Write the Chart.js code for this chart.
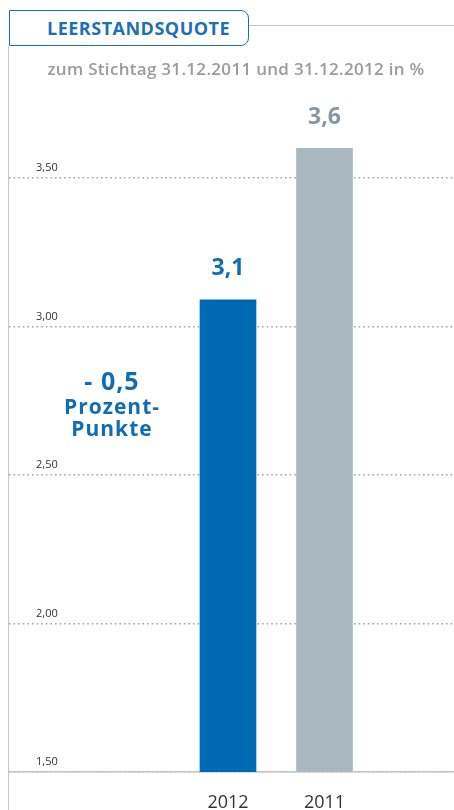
<!DOCTYPE html>
<html><head><meta charset="utf-8">
<script src="https://cdn.jsdelivr.net/npm/chart.js@4"></script>
<style>
html,body{margin:0;padding:0;background:#fff;}
#wrap{position:relative;width:454px;height:810px;overflow:hidden;font-family:"Open Sans",sans-serif;}
#chart{position:absolute;left:0;top:0;}
.vline{position:absolute;left:8px;top:46px;width:1px;height:764px;background:#c6c6c6;}
.hline{position:absolute;left:249px;top:25px;width:205px;height:1px;background:#c6c6c6;}
.head{position:absolute;left:9px;top:10px;width:238px;height:34px;border:1.5px solid #1d6fb8;border-radius:0 8px 8px 0;background:#fff;}
.headtxt{position:absolute;left:47px;top:10px;height:37px;line-height:37px;color:#1d6fb8;font-weight:700;font-size:18px;letter-spacing:0.5px;white-space:nowrap;}
.sub{position:absolute;left:0;width:472px;top:57px;text-align:center;color:#9b9b9b;font-weight:600;font-size:17px;letter-spacing:0.3px;white-space:nowrap;}
.note{position:absolute;left:52px;width:120px;top:366px;text-align:center;color:#0f6cb6;font-weight:700;white-space:nowrap;}
.note .big{font-size:25px;line-height:29px;letter-spacing:1px;}
.note .sm{font-size:21px;line-height:22px;letter-spacing:1px;}
</style></head>
<body>
<div id="wrap">
<canvas id="chart" width="454" height="810"></canvas>
<div class="vline"></div>
<div class="hline"></div>
<div class="head"></div>
<div class="headtxt">LEERSTANDSQUOTE</div>
<div class="sub">zum Stichtag 31.12.2011 und 31.12.2012 in %</div>
<div class="note"><div class="big">- 0,5</div><div class="sm">Prozent-</div><div class="sm">Punkte</div></div>
</div>
<script>
const categories = ['2012', '2011'];
const values = [3.09, 3.6];
const barColors = ['#0069b4', '#a9b7c1'];
const labelColors = ['#0f6cb6', '#8797a6'];
const yTicks = [1.5, 2.0, 2.5, 3.0, 3.5];

const valueLabels = {
  id: 'valueLabels',
  afterDatasetsDraw(chart) {
    const ctx = chart.ctx;
    const meta = chart.getDatasetMeta(0);
    meta.data.forEach((bar, i) => {
      ctx.save();
      ctx.font = '700 23px "Open Sans"';
      ctx.fillStyle = labelColors[i];
      ctx.textAlign = 'center';
      ctx.textBaseline = 'middle';
      ctx.fillText(values[i].toFixed(1).replace('.', ','), bar.x, bar.y - 31);
      ctx.restore();
    });
  }
};

new Chart(document.getElementById('chart'), {
  type: 'bar',
  data: {
    datasets: [{
      data: categories.map((c, i) => ({ x: i, y: values[i] })),
      backgroundColor: barColors,
      borderWidth: 0,
      barThickness: 56
    }]
  },
  options: {
    responsive: false,
    animation: false,
    layout: { padding: { left: 9, right: 0, top: 89, bottom: 0 } },
    plugins: { legend: { display: false }, tooltip: { enabled: false } },
    scales: {
      x: {
        type: 'linear', min: -2.2694, max: 2.342, offset: false,
        grid: { display: false, drawTicks: false, offset: false },
        border: { display: true, color: '#c3c3c3', width: 1.5 },
        afterBuildTicks: s => { s.ticks = categories.map((c, i) => ({ value: i })); },
        afterFit: s => { s.height = 38; },
        ticks: {
          callback: v => categories[v] ?? '',
          font: { family: 'Open Sans', size: 18, lineHeight: 1.2 },
          color: '#333', padding: 20, maxRotation: 0, autoSkip: false
        }
      },
      y: {
        min: 1.5, max: 3.8,
        afterBuildTicks: s => { s.ticks = yTicks.map(v => ({ value: v })); },
        afterFit: s => { s.width = 0; },
        grid: { color: '#a5a5a5', drawTicks: false, lineWidth: 1.5 },
        border: { display: false, dash: [1.6, 3] },
        ticks: {
          mirror: true, padding: 27, labelOffset: -10,
          callback: v => v.toFixed(2).replace('.', ','),
          font: { family: 'Open Sans', size: 11 }, color: '#333'
        }
      }
    }
  },
  plugins: [valueLabels]
});
</script>
</body></html>
